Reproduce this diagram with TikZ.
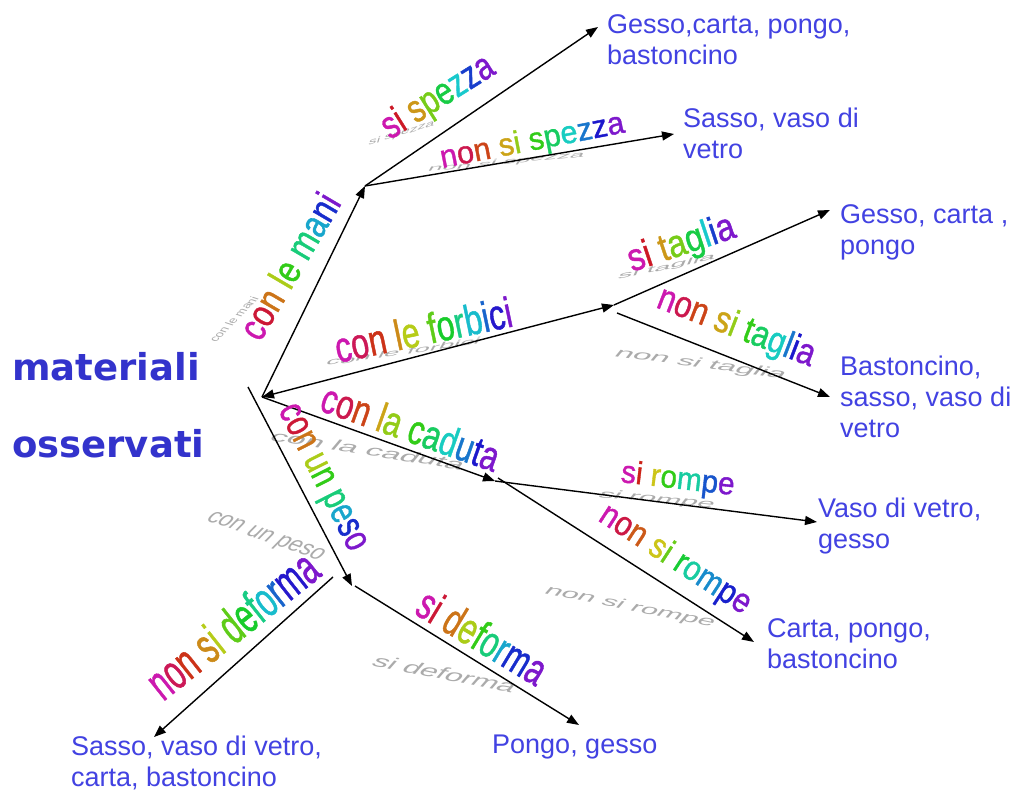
\documentclass[tikz,border=0pt]{standalone}
\usepackage{fontspec}
\usepackage{graphicx}
\usetikzlibrary{arrows.meta}
\newfontfamily\wafont[FakeBold=1.2]{Liberation Sans}
\newfontfamily\shfont{Liberation Sans}
\newfontfamily\lblfont{Liberation Sans}
\newfontfamily\ttlfont{DejaVu Sans}
\definecolor{ttlblue}{RGB}{51,51,204}
\definecolor{lblblue}{RGB}{66,66,226}
\ExplSyntaxOn
\int_new:N \l_rb_n_int
\int_new:N \l_rb_i_int
\NewDocumentCommand \rb { m }
 {
  \int_set:Nn \l_rb_n_int { \str_count_ignore_spaces:n {#1} }
  \int_zero:N \l_rb_i_int
  \str_map_inline:nn {#1}
   {
    \str_if_eq:nnTF {##1} {~}
     { \c_space_tl }
     {
      \group_begin:
      \use:x
       {
        \exp_not:N \color [hsb]
         {
          \fp_eval:n
           {
            0.86 + 0.9 * \int_use:N \l_rb_i_int / ( \int_use:N \l_rb_n_int - 1 )
            - trunc ( 0.86 + 0.9 * \int_use:N \l_rb_i_int / ( \int_use:N \l_rb_n_int - 1 ) )
           } , 0.88 , 0.8
         }
       }
      ##1
      \group_end:
      \int_incr:N \l_rb_i_int
     }
   }
 }
\ExplSyntaxOff
\begin{document}
\begin{tikzpicture}[x=1pt,y=-1pt,
  conn/.style={line width=1.4pt, -{Triangle[length=12pt,width=9pt]}},
  connb/.style={line width=1.4pt, {Triangle[length=12pt,width=9pt]}-{Triangle[length=12pt,width=9pt]}},
  leaf/.style={anchor=north west, inner sep=0pt, align=left, text=lblblue,
    font=\lblfont\fontsize{27}{31}\selectfont},
  ttl/.style={anchor=north west, inner sep=0pt, align=left, text=ttlblue,
    font=\ttlfont\bfseries\fontsize{37}{77}\selectfont},
  wa/.style={anchor=base west, inner sep=0pt, font=\wafont},
  sh/.style={anchor=base west, inner sep=0pt, font=\shfont, text=black!33, xslant=0.7},
]
\useasboundingbox (0,0) rectangle (1015,794);
\fill[white] (0,0) rectangle (1015,794);

% shadows
\node[sh, rotate=-16] (sPeso) at (205,520) {\resizebox{148pt}{10pt}{con un peso}};
\node[sh, rotate=-8] (sCad) at (268,440) {\resizebox{215pt}{10pt}{con la caduta}};
\node[sh, rotate=-7] (sNta) at (613,356) {\resizebox{187pt}{9pt}{non si taglia}};
\node[sh, rotate=-10] (sNro) at (543,593) {\resizebox{195pt}{9pt}{non si rompe}};
\node[sh, rotate=-10] (sDe) at (370,665) {\resizebox{163pt}{11pt}{si deforma}};
\node[sh, rotate=-5] (sRo) at (597,497) {\resizebox{123pt}{8pt}{si rompe}};
\node[sh, rotate=22] (sSp) at (368,146) {\resizebox{55pt}{7pt}{si spezza}};
\node[sh, rotate=6] (sNsp) at (427,172) {\resizebox{146pt}{6pt}{non si spezza}};
\node[sh, rotate=9] (sForb) at (325,366) {\resizebox{140pt}{7pt}{con le forbici}};
\node[sh, rotate=14] (sTa) at (617,280) {\resizebox{85pt}{7pt}{si taglia}};
\node[sh, rotate=75] (sMani) at (216,343) {\resizebox{46pt}{10pt}{con le mani}};

% junction coordinates
\coordinate (root) at (262,397);
\coordinate (pesoTop) at (248,387);
\coordinate (mani) at (365,186);
\coordinate (forb) at (614,305);
\coordinate (forb2) at (617,313);
\coordinate (cad) at (495,481);
\coordinate (cad2) at (498,478);
\coordinate (peso) at (352,586);
\coordinate (peso2) at (355,586);
\coordinate (peso3) at (333,577);
% arrow ends
\coordinate (eSp) at (598,27);
\coordinate (eNsp) at (674,134);
\coordinate (eTa) at (830,210);
\coordinate (eNta) at (830,397);
\coordinate (eRo) at (817,522);
\coordinate (eNro) at (754,642);
\coordinate (eDe) at (579,725);
\coordinate (eNde) at (154,737);

% connectors
\draw[conn] (root) -- (mani);
\draw[connb] (root) -- (forb);
\draw[conn] (root) -- (cad);
\draw[conn] (pesoTop) -- (peso);
\draw[conn] (mani) -- (eSp);
\draw[conn] (mani) -- (eNsp);
\draw[conn] (forb) -- (eTa);
\draw[conn] (forb2) -- (eNta);
\draw[conn] (cad) -- (eRo);
\draw[conn] (cad2) -- (eNro);
\draw[conn] (peso2) -- (eDe);
\draw[conn] (peso3) -- (eNde);

% word-art labels
\node[wa, rotate=59.6] (wMani) at (260,343) {\resizebox{162pt}{28pt}{\rb{con le mani}}};
\node[wa, rotate=11.8] (wForb) at (338,363) {\resizebox{180pt}{31pt}{\rb{con le forbici}}};
\node[wa, rotate=-19.5] (wCad) at (318,410) {\resizebox{186pt}{30pt}{\rb{con la caduta}}};
\node[wa, rotate=-63.3] (wPeso) at (278,410) {\resizebox{160pt}{21pt}{\rb{con un peso}}};
\node[wa, rotate=32] (wSp) at (390,140) {\resizebox{126pt}{28pt}{\rb{si spezza}}};
\node[wa, rotate=11] (wNsp) at (442,168) {\resizebox{187pt}{23pt}{\rb{non si spezza}}};
\node[wa, rotate=18.4] (wTa) at (632,272) {\resizebox{111pt}{28pt}{\rb{si taglia}}};
\node[wa, rotate=-21] (wNta) at (655,307) {\resizebox{166pt}{27pt}{\rb{non si taglia}}};
\node[wa, rotate=-6.6] (wRo) at (620,482) {\resizebox{114pt}{23pt}{\rb{si rompe}}};
\node[wa, rotate=-33] (wNro) at (597,520) {\resizebox{174pt}{25pt}{\rb{non si rompe}}};
\node[wa, rotate=-31] (wDe) at (413,613) {\resizebox{143pt}{32pt}{\rb{si deforma}}};
\node[wa, rotate=38.4] (wNde) at (163,702) {\resizebox{204pt}{36pt}{\rb{non si deforma}}};

% title
\node[ttl] (title) at (12,326.1) {\strut materiali\\osservati};

% leaves
\node[leaf] (l1) at (607,11.3) {\strut Gesso,carta, pongo,\\bastoncino};
\node[leaf] (l2) at (683,105.3) {\strut Sasso, vaso di\\vetro};
\node[leaf] (l3) at (840,201.3) {\strut Gesso, carta ,\\pongo};
\node[leaf] (l4) at (840,353.3) {\strut Bastoncino,\\sasso, vaso di\\vetro};
\node[leaf] (l5) at (818,495.3) {\strut Vaso di vetro,\\gesso};
\node[leaf] (l6) at (767,615.3) {\strut Carta, pongo,\\bastoncino};
\node[leaf] (l7) at (492,731.3) {\strut Pongo, gesso};
\node[leaf] (l8) at (71,733.3) {\strut Sasso, vaso di vetro,\\carta, bastoncino};
\end{tikzpicture}
\end{document}
